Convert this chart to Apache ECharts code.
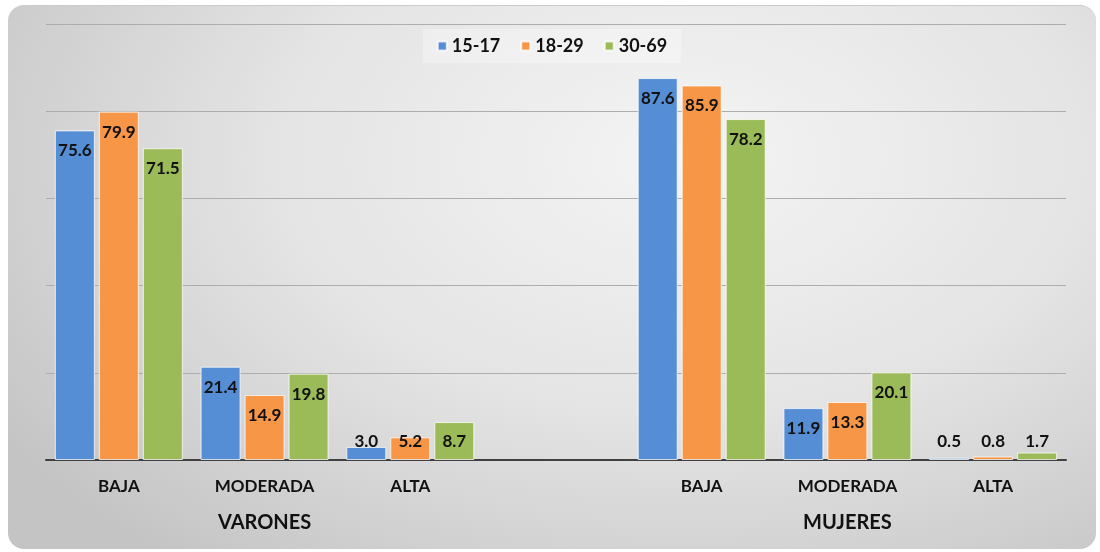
<!DOCTYPE html>
<html>
<head>
<meta charset="utf-8">
<script src="https://cdn.jsdelivr.net/npm/echarts@6/dist/echarts.min.js"></script>
<style>
  html, body { margin: 0; padding: 0; background: #fff; }
  #card {
    position: absolute;
    left: 8px;
    top: 5px;
    width: 1088px;
    height: 544px;
    border-radius: 16px;
    border-top: 1px solid #cbcbcb;
    box-sizing: border-box;
    background: radial-gradient(ellipse 75% 95% at 62% 28%, #f4f4f4 0%, #e4e4e4 50%, #c4c4c4 100%);
  }
  #main { width: 100%; height: 100%; }
</style>
</head>
<body>
<div id="card"><div id="main"></div></div>
<script>
// niveles por grupo (la columna vacía separa varones de mujeres)
const categories = ["BAJA", "MODERADA", "ALTA", "", "BAJA", "MODERADA", "ALTA"];
const groupLabels = ["", "VARONES", "", "", "", "MUJERES", ""];
const seriesNames = ["15-17", "18-29", "30-69"];
const age15to17 = [75.6, 21.4, 3.0, "-", 87.6, 11.9, 0.5];
const age18to29 = [79.9, 14.9, 5.2, "-", 85.9, 13.3, 0.8];
const age30to69 = [71.5, 19.8, 8.7, "-", 78.2, 20.1, 1.7];

const colors = ["#558ed5", "#f79646", "#9bbb59"];
const font = "Lato, 'Open Sans', sans-serif";

function labelFor(v) {
  // short bars get the label pushed up from the baseline, like Excel does
  if (v === "-") return { value: v };
  const small = v < 9;
  return {
    value: v,
    label: small
      ? { position: "insideBottom", distance: 10 }
      : { position: "insideTop", distance: 12 },
  };
}

function makeSeries(name, values, i) {
  return {
    name: name,
    type: "bar",
    barWidth: 40,
    barGap: "10%",
    data: values.map(labelFor),
    itemStyle: {
      color: colors[i],
      borderColor: "rgba(255,255,255,0.75)",
      borderWidth: 1,
    },
    label: {
      show: true,
      color: "#111",
      fontFamily: font,
      fontWeight: "bold",
      fontSize: 17,
      formatter: (p) => Number(p.value).toFixed(1),
    },
  };
}

const chart = echarts.init(document.getElementById("main"));
const option = {
  animation: false,
  color: colors,
  legend: {
    top: 23,
    left: "center",
    data: seriesNames,
    icon: "rect",
    itemWidth: 9,
    itemHeight: 9,
    itemGap: 20,
    backgroundColor: "rgba(255,255,255,0.3)",
    padding: [8, 14],
    textStyle: {
      fontFamily: font,
      fontWeight: "bold",
      fontSize: 18,
      color: "#111",
    },
  },
  grid: {
    left: 38,
    right: 30,
    top: 18,
    bottom: 89,
  },
  xAxis: [
    {
      type: "category",
      data: categories,
      axisLine: { lineStyle: { color: "#404040", width: 2 } },
      axisTick: { show: false },
      axisLabel: {
        margin: 18,
        color: "#111",
        fontFamily: font,
        fontWeight: "bold",
        fontSize: 17,
      },
    },
    {
      type: "category",
      data: groupLabels,
      position: "bottom",
      offset: 36,
      axisLine: { show: false },
      axisTick: { show: false },
      axisLabel: {
        margin: 17,
        color: "#111",
        fontFamily: font,
        fontWeight: "bold",
        fontSize: 20,
        interval: 0,
      },
    },
  ],
  yAxis: {
    type: "value",
    min: 0,
    max: 100,
    interval: 20,
    axisLine: { show: false },
    axisTick: { show: false },
    axisLabel: { show: false },
    splitLine: { lineStyle: { color: "#adadad", width: 1 } },
  },
  series: [
    makeSeries(seriesNames[0], age15to17, 0),
    makeSeries(seriesNames[1], age18to29, 1),
    makeSeries(seriesNames[2], age30to69, 2),
  ],
};
chart.setOption(option);
</script>
</body>
</html>
